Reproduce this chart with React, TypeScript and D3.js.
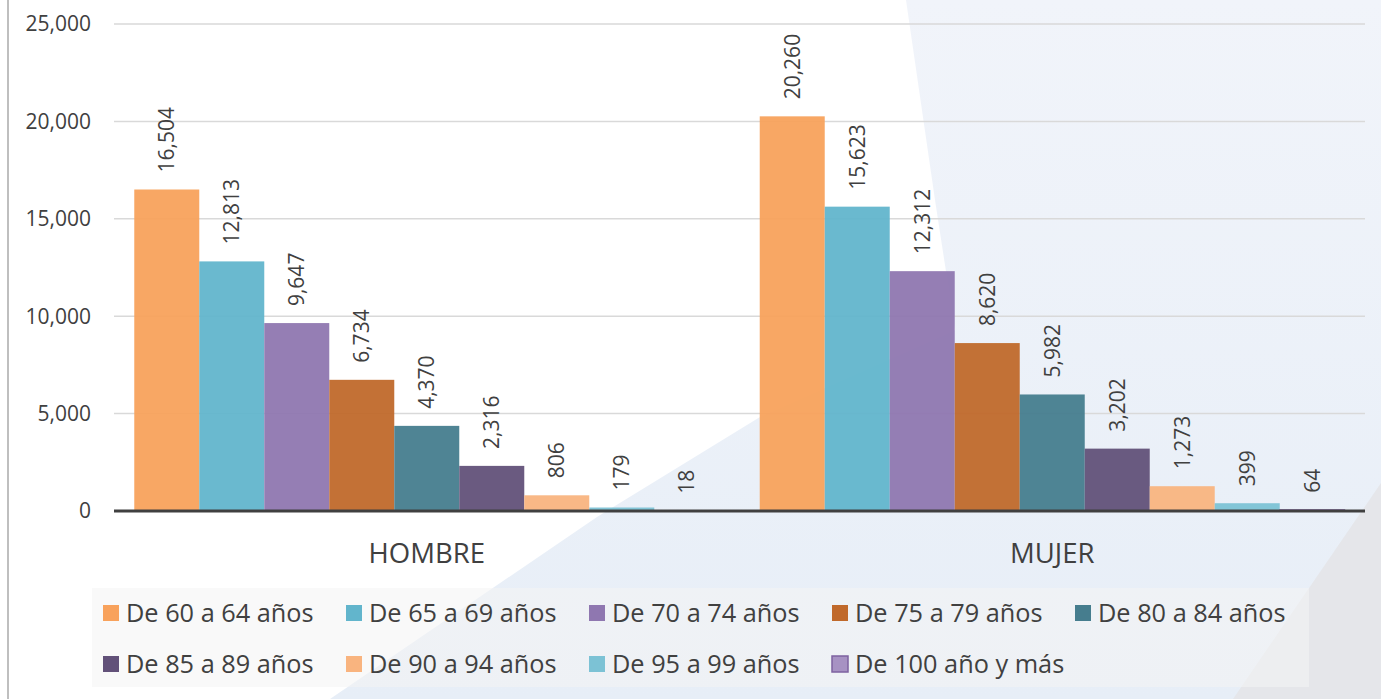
import React from 'react';
import * as d3 from 'd3';

const categories = ['HOMBRE', 'MUJER'];
const seriesNames = [
    'De 60 a 64 años',
    'De 65 a 69 años',
    'De 70 a 74 años',
    'De 75 a 79 años',
    'De 80 a 84 años',
    'De 85 a 89 años',
    'De 90 a 94 años',
    'De 95 a 99 años',
    'De 100 año y más',
];
// valores por categoría (HOMBRE, MUJER) para cada rango de edad
const hombreValues = [16504, 12813, 9647, 6734, 4370, 2316, 806, 179, 18];
const mujerValues = [20260, 15623, 12312, 8620, 5982, 3202, 1273, 399, 64];
const yTicks = [0, 5000, 10000, 15000, 20000, 25000];
const seriesColors = ['#f8a25c', '#62b5cc', '#8f77b0', '#c0692b', '#467d8e', '#625179', '#f9b47f', '#7cc2d5', '#a792c3'];

const W = 1381;
const H = 699;
const font = '"Open Sans", sans-serif';
const textColor = '#404040';

const App: React.FC = () => {
    const x0 = d3.scaleBand<string>()
        .domain(categories)
        .range([114, 1365])
        .paddingInner(0.0647)
        .paddingOuter(0.0324);

    const x1 = d3.scaleBand<string>()
        .domain(seriesNames)
        .range([0, x0.bandwidth()]);

    const y = d3.scaleLinear()
        .domain([0, 25000])
        .range([511, 24]);

    const fmt = d3.format(',');
    const valuesByCat: Record<string, number[]> = { HOMBRE: hombreValues, MUJER: mujerValues };

    return (
        <div style={{ position: 'absolute', left: 0, top: 0 }}>
            <svg width={W} height={H} style={{ display: 'block', fontFamily: font }}>
                <defs>
                    <linearGradient id="bg" x1="0" y1="0" x2="0" y2="1">
                        <stop offset="0" stopColor="#f1f4fa" />
                        <stop offset="1" stopColor="#e7eef7" />
                    </linearGradient>
                </defs>
                <rect x={0} y={0} width={W} height={H} fill="#ffffff" />
                {/* fondo decorativo */}
                <polygon points="906,0 1381,0 1381,699 330,699 597,517 760,417 955,330 935,200" fill="url(#bg)" />
                <polygon points="1381,483 1381,699 1233,699" fill="#e5e6ea" />
                <line x1={8} x2={8} y1={0} y2={H} stroke="#bfbfbf" strokeWidth={2} />

                {/* grid */}
                {yTicks.filter(t => t > 0).map(t => (
                    <line key={t} x1={114} x2={1365} y1={y(t)} y2={y(t)} stroke="#d9d9d9" strokeWidth={1.5} />
                ))}
                {yTicks.map(t => (
                    <text key={'l' + t} x={91} y={y(t)} dy="0.35em" textAnchor="end" fontSize={21} fill={textColor}>
                        {fmt(t)}
                    </text>
                ))}

                {/* barras */}
                {categories.map(cat => (
                    <g key={cat} transform={`translate(${x0(cat)},0)`}>
                        {valuesByCat[cat].map((v, i) => {
                            const name = seriesNames[i];
                            const bx = x1(name) as number;
                            const cx = bx + x1.bandwidth() / 2;
                            return (
                                <g key={name}>
                                    <rect x={bx} y={y(v)} width={x1.bandwidth()} height={y(0) - y(v)}
                                        fill={seriesColors[i]} fillOpacity={0.95}
                                        stroke={i === 8 ? '#7e62a0' : 'none'} strokeWidth={1} />
                                    <text transform={`translate(${cx},${y(v) - 17}) rotate(-90)`} dy="0.35em"
                                        textAnchor="start" fontSize={21} fill={textColor}>
                                        {fmt(v)}
                                    </text>
                                </g>
                            );
                        })}
                    </g>
                ))}

                <line x1={114} x2={1365} y1={y(0)} y2={y(0)} stroke="#404040" strokeWidth={3} />
                {categories.map(cat => (
                    <text key={cat} x={(x0(cat) as number) + x0.bandwidth() / 2} y={563} textAnchor="middle"
                        fontSize={27.5} fill={textColor}>
                        {cat}
                    </text>
                ))}

                {/* leyenda */}
                <rect x={92} y={588} width={1217} height={99} fill="#f4f4f4" fillOpacity={0.55} />
                {seriesNames.map((name, i) => {
                    const lx = 103 + (i % 5) * 243;
                    const ly = i < 5 ? 613 : 664;
                    return (
                        <g key={name}>
                            <rect x={lx} y={ly - 8} width={16} height={16} fill={seriesColors[i]}
                                stroke={i === 8 ? '#7e62a0' : 'none'} strokeWidth={1.5} />
                            <text x={lx + 23} y={ly} dy="0.35em" fontSize={25.3} fill={textColor}>{name}</text>
                        </g>
                    );
                })}
            </svg>
        </div>
    );
};

export default App;
